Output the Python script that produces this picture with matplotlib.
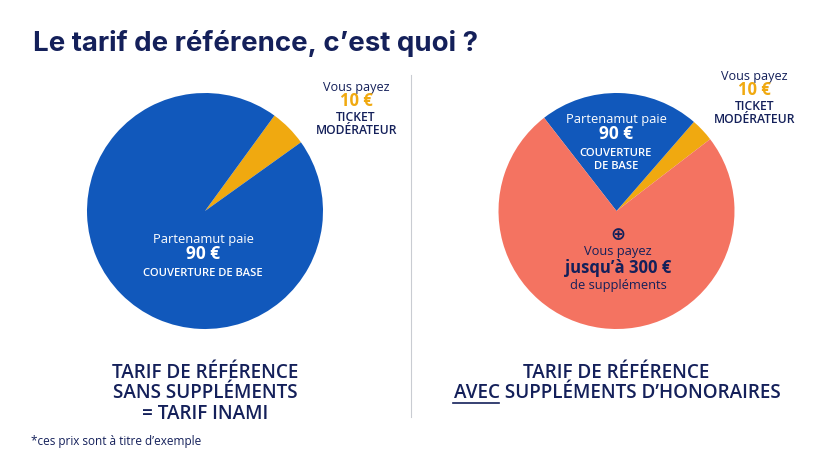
import matplotlib
matplotlib.use("Agg")
import matplotlib.pyplot as plt

plt.rcParams['font.family'] = ['Open Sans', 'DejaVu Sans']

# --- data: shares ---
left_labels = ["Ticket modérateur", "Couverture de base"]
left_shares = [5.1, 94.9]
right_labels = ["Ticket modérateur", "Couverture de base", "Suppléments"]
right_shares = [3.2, 21.9, 74.9]

NAVY = "#14205a"
BLUE = "#1158bb"
YELLOW = "#f0a910"
CORAL = "#f47361"

W, H = 820, 461
fig = plt.figure(figsize=(W / 100, H / 100), dpi=100)
ax = fig.add_axes([0, 0, 1, 1])
ax.set_xlim(0, W)
ax.set_ylim(0, H)


# positions are given in image pixels, y from the top
def txt(x, y, s, size, color=NAVY, weight="normal", ha="center", **kw):
    return ax.text(x, H - y, s, fontsize=size, color=color, fontweight=weight,
                   ha=ha, va="center", **kw)


ax.pie(left_shares, colors=[YELLOW, BLUE], startangle=35.6, radius=118,
       center=(205, H - 211), frame=True)
ax.pie(right_shares, colors=[YELLOW, BLUE, CORAL], startangle=37.5, radius=118,
       center=(616.5, H - 211), frame=True)
ax.set_xlim(0, W)
ax.set_ylim(0, H)
ax.set_aspect("equal")
ax.axis("off")

# separator
ax.plot([411.5, 411.5], [H - 75, H - 417], color="#c9ccd2", lw=0.8)

# title
txt(33, 43, "Le tarif de référence, c’est quoi ?", 19.9, weight="bold", ha="left",
    family=["Inter", "DejaVu Sans"])

# left pie
txt(356, 87, "Vous payez", 9.1)
txt(356, 101, "10 €", 12, color=YELLOW, weight="bold")
txt(356, 117, "TICKET", 8.7, weight="semibold")
txt(356.5, 130, "MODÉRATEUR", 8.7, weight="semibold")
txt(203, 239, "Partenamut paie", 9.3, color="white")
txt(203, 254, "90 €", 12.5, color="white", weight="bold")
txt(203, 273, "COUVERTURE DE BASE", 8.1, color="white", weight="semibold")

# right pie
txt(754.5, 76, "Vous payez", 9.1)
txt(754.5, 90, "10 €", 12, color=YELLOW, weight="bold")
txt(755, 106, "TICKET", 8.7, weight="semibold")
txt(755, 119, "MODÉRATEUR", 8.7, weight="semibold")
txt(616, 119, "Partenamut paie", 9.3, color="white")
txt(616, 134, "90 €", 12.5, color="white", weight="bold")
txt(616, 153, "COUVERTURE", 8.1, color="white", weight="semibold")
txt(616, 166, "DE BASE", 8.1, color="white", weight="semibold")
txt(618, 235, "⊕", 13, family=["DejaVu Sans"], weight="bold")
txt(618, 251, "Vous payez", 9.3)
txt(618, 268, "jusqu’à 300 €", 12, weight="bold")
txt(618, 285, "de suppléments", 9.3)

# captions
for y, s in zip([373, 393, 414], ["TARIF DE RÉFÉRENCE", "SANS SUPPLÉMENTS", "= TARIF INAMI"]):
    txt(205, y, s, 13.6, weight="semibold")
txt(616, 373, "TARIF DE RÉFÉRENCE", 13.6, weight="semibold")
txt(617, 393, "AVEC SUPPLÉMENTS D’HONORAIRES", 13.6, weight="semibold")
ax.plot([453, 499], [H - 403, H - 403], color=NAVY, lw=1.2)

txt(31, 442, "*ces prix sont à titre d’exemple", 8.5, ha="left")

fig.savefig("out.png", dpi=100)
